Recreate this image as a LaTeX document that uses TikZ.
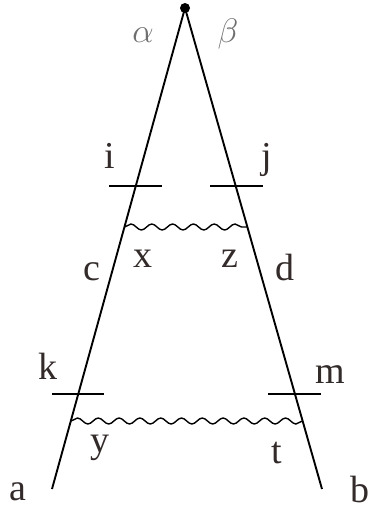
\RequirePackage{fix-cm}
\documentclass[tikz,border=0pt]{standalone}
\usepackage{fontspec}
\setmainfont{Liberation Serif}
\usetikzlibrary{decorations.pathmorphing}
\definecolor{inkbrown}{HTML}{332A2A}
\definecolor{greekgrey}{HTML}{6E6E6E}
\tikzset{
	leg/.style={line width=1.9pt},
	tick/.style={line width=1.9pt},
	wave/.style={line width=1.4pt,decorate,decoration={snake,segment length=20.8pt,amplitude=3pt}},
	lbl/.style={anchor=base,inner sep=0pt,text=inkbrown,font=\fontsize{38}{44}\selectfont},
	glbl/.style={anchor=base,inner sep=0pt,text=greekgrey,font=\fontsize{34}{40}\selectfont}
}
\begin{document}
\begin{tikzpicture}[x=1pt,y=1pt]
					\useasboundingbox (0,0) rectangle (367,-511);
					\node[circle,fill,inner sep=0pt,minimum size=10pt] (o) at (185,-8) {};
					\coordinate (aend) at (52,-489);
					\coordinate (bend) at (322,-489);
					\draw[leg] (o.center) -- (aend);
					\draw[leg] (o.center) -- (bend);
					\draw[tick] (109,-186) -- (162,-186);
					\draw[tick] (210,-186) -- (263,-186);
					\draw[tick] (52,-394) -- (104,-394);
					\draw[tick] (268,-394) -- (321,-394);
					\draw[wave] (124.5,-227) -- (247.5,-227);
					\draw[wave] (71,-421) -- (302.5,-421);
					\node[glbl] (alpha) at (143,-43) {$\alpha$};
					\node[glbl] (beta) at (228,-43) {$\beta$};
					\node[lbl] (i) at (110,-168) {i};
					\node[lbl] (j) at (267,-168) {j};
					\node[lbl] (c) at (92,-280) {c};
					\node[lbl] (x) at (143,-267) {x};
					\node[lbl] (z) at (230,-267) {z};
					\node[lbl] (d) at (285,-280) {d};
					\node[lbl] (k) at (48,-379) {k};
					\node[lbl] (m) at (330,-383) {m};
					\node[lbl] (y) at (100,-452) {y};
					\node[lbl] (t) at (277,-463) {t};
					\node[lbl] (a) at (18,-500) {a};
					\node[lbl] (b) at (360,-502) {b};
				\end{tikzpicture}
\end{document}
